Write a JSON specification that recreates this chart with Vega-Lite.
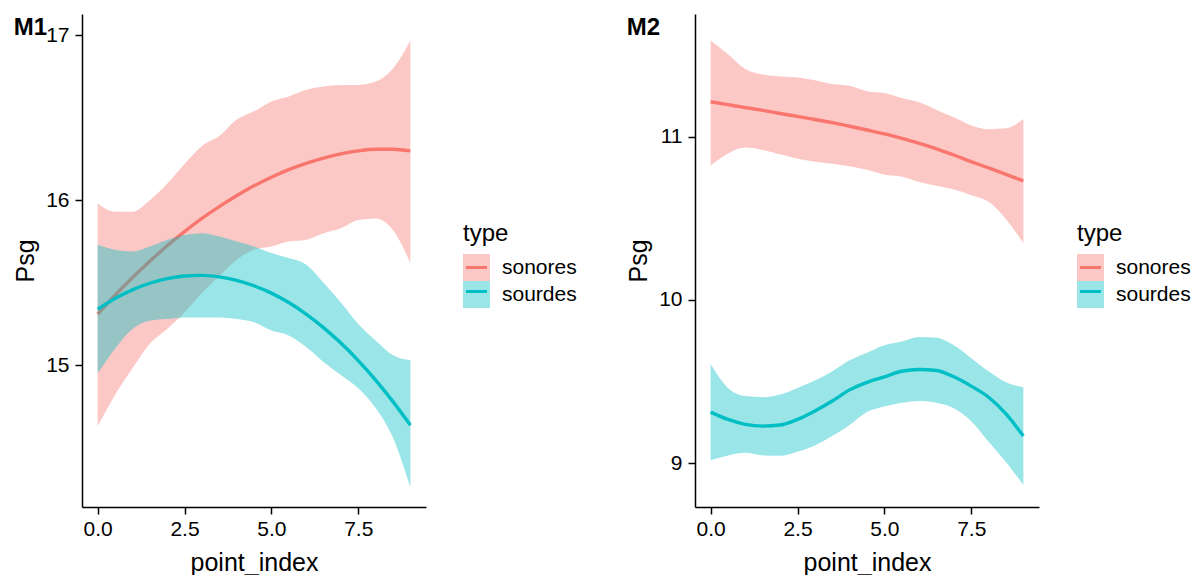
{
  "$schema": "https://vega.github.io/schema/vega-lite/v6.json",
  "background": "white",
  "padding": {"left": 13, "top": 14, "right": 0, "bottom": 0},
  "spacing": 49,
  "config": {
    "font": "Liberation Sans",
    "view": {"stroke": null},
    "axis": {
      "grid": false,
      "domainColor": "black",
      "domainWidth": 1.5,
      "tickColor": "black",
      "tickWidth": 1.5,
      "tickSize": 7,
      "labelFontSize": 21,
      "labelColor": "black",
      "titleFontSize": 25,
      "titleColor": "black",
      "titleFontWeight": "normal"
    },
    "axisX": {"labelPadding": 4, "titlePadding": 11},
    "axisY": {"labelPadding": 6, "titlePadding": 7},
    "legend": {
      "titleFontSize": 24,
      "titleFontWeight": "normal",
      "titleColor": "black",
      "labelFontSize": 21,
      "labelColor": "black",
      "rowPadding": 0,
      "titlePadding": 8,
      "labelOffset": 12
    },
    "title": {"fontSize": 24, "fontWeight": "bold", "color": "black", "anchor": "start", "frame": "bounds"}
  },
  "datasets": {
    "m1": [
      {"x": 0, "type": "sonores", "y": 15.31, "lo": 14.63, "hi": 15.98},
      {"x": 0.5, "type": "sonores", "y": 15.424, "lo": 14.82, "hi": 15.93},
      {"x": 1, "type": "sonores", "y": 15.53, "lo": 14.98, "hi": 15.93},
      {"x": 1.5, "type": "sonores", "y": 15.63, "lo": 15.13, "hi": 16.0},
      {"x": 2, "type": "sonores", "y": 15.724, "lo": 15.22, "hi": 16.1},
      {"x": 2.5, "type": "sonores", "y": 15.81, "lo": 15.32, "hi": 16.22},
      {"x": 3, "type": "sonores", "y": 15.89, "lo": 15.44, "hi": 16.33},
      {"x": 3.5, "type": "sonores", "y": 15.962, "lo": 15.54, "hi": 16.39},
      {"x": 4, "type": "sonores", "y": 16.028, "lo": 15.64, "hi": 16.49},
      {"x": 4.5, "type": "sonores", "y": 16.088, "lo": 15.7, "hi": 16.54},
      {"x": 5, "type": "sonores", "y": 16.14, "lo": 15.72, "hi": 16.6},
      {"x": 5.5, "type": "sonores", "y": 16.186, "lo": 15.75, "hi": 16.63},
      {"x": 6, "type": "sonores", "y": 16.224, "lo": 15.76, "hi": 16.67},
      {"x": 6.5, "type": "sonores", "y": 16.256, "lo": 15.8, "hi": 16.69},
      {"x": 7, "type": "sonores", "y": 16.282, "lo": 15.83, "hi": 16.7},
      {"x": 7.5, "type": "sonores", "y": 16.3, "lo": 15.88, "hi": 16.7},
      {"x": 8, "type": "sonores", "y": 16.31, "lo": 15.89, "hi": 16.72},
      {"x": 8.5, "type": "sonores", "y": 16.31, "lo": 15.82, "hi": 16.8},
      {"x": 9, "type": "sonores", "y": 16.3, "lo": 15.62, "hi": 16.97},
      {"x": 0, "type": "sourdes", "y": 15.34, "lo": 14.95, "hi": 15.73},
      {"x": 0.5, "type": "sourdes", "y": 15.405, "lo": 15.1, "hi": 15.7},
      {"x": 1, "type": "sourdes", "y": 15.457, "lo": 15.22, "hi": 15.69},
      {"x": 1.5, "type": "sourdes", "y": 15.497, "lo": 15.27, "hi": 15.72},
      {"x": 2, "type": "sourdes", "y": 15.525, "lo": 15.28, "hi": 15.76},
      {"x": 2.5, "type": "sourdes", "y": 15.541, "lo": 15.29, "hi": 15.79},
      {"x": 3, "type": "sourdes", "y": 15.545, "lo": 15.29, "hi": 15.8},
      {"x": 3.5, "type": "sourdes", "y": 15.536, "lo": 15.29, "hi": 15.78},
      {"x": 4, "type": "sourdes", "y": 15.515, "lo": 15.28, "hi": 15.75},
      {"x": 4.5, "type": "sourdes", "y": 15.482, "lo": 15.26, "hi": 15.72},
      {"x": 5, "type": "sourdes", "y": 15.437, "lo": 15.21, "hi": 15.68},
      {"x": 5.5, "type": "sourdes", "y": 15.38, "lo": 15.18, "hi": 15.65},
      {"x": 6, "type": "sourdes", "y": 15.31, "lo": 15.11, "hi": 15.61},
      {"x": 6.5, "type": "sourdes", "y": 15.228, "lo": 15.02, "hi": 15.5},
      {"x": 7, "type": "sourdes", "y": 15.134, "lo": 14.94, "hi": 15.38},
      {"x": 7.5, "type": "sourdes", "y": 15.028, "lo": 14.86, "hi": 15.25},
      {"x": 8, "type": "sourdes", "y": 14.91, "lo": 14.74, "hi": 15.15},
      {"x": 8.5, "type": "sourdes", "y": 14.779, "lo": 14.56, "hi": 15.06},
      {"x": 9, "type": "sourdes", "y": 14.636, "lo": 14.26, "hi": 15.03}
    ],
    "m2": [
      {"x": 0, "type": "sonores", "y": 11.213, "lo": 10.823, "hi": 11.588},
      {"x": 0.5, "type": "sonores", "y": 11.195, "lo": 10.896, "hi": 11.504},
      {"x": 1, "type": "sonores", "y": 11.177, "lo": 10.932, "hi": 11.413},
      {"x": 1.5, "type": "sonores", "y": 11.16, "lo": 10.918, "hi": 11.379},
      {"x": 2, "type": "sonores", "y": 11.141, "lo": 10.891, "hi": 11.368},
      {"x": 2.5, "type": "sonores", "y": 11.123, "lo": 10.864, "hi": 11.361},
      {"x": 3, "type": "sonores", "y": 11.104, "lo": 10.846, "hi": 11.345},
      {"x": 3.5, "type": "sonores", "y": 11.085, "lo": 10.834, "hi": 11.322},
      {"x": 4, "type": "sonores", "y": 11.063, "lo": 10.818, "hi": 11.311},
      {"x": 4.5, "type": "sonores", "y": 11.04, "lo": 10.796, "hi": 11.277},
      {"x": 5, "type": "sonores", "y": 11.016, "lo": 10.766, "hi": 11.266},
      {"x": 5.5, "type": "sonores", "y": 10.988, "lo": 10.755, "hi": 11.236},
      {"x": 6, "type": "sonores", "y": 10.958, "lo": 10.721, "hi": 11.209},
      {"x": 6.5, "type": "sonores", "y": 10.925, "lo": 10.698, "hi": 11.163},
      {"x": 7, "type": "sonores", "y": 10.887, "lo": 10.675, "hi": 11.118},
      {"x": 7.5, "type": "sonores", "y": 10.846, "lo": 10.641, "hi": 11.068},
      {"x": 8, "type": "sonores", "y": 10.808, "lo": 10.6, "hi": 11.045},
      {"x": 8.5, "type": "sonores", "y": 10.768, "lo": 10.494, "hi": 11.05},
      {"x": 9, "type": "sonores", "y": 10.728, "lo": 10.346, "hi": 11.107},
      {"x": 0, "type": "sourdes", "y": 9.313, "lo": 9.018, "hi": 9.608},
      {"x": 0.5, "type": "sourdes", "y": 9.268, "lo": 9.048, "hi": 9.461},
      {"x": 1, "type": "sourdes", "y": 9.238, "lo": 9.064, "hi": 9.411},
      {"x": 1.5, "type": "sourdes", "y": 9.227, "lo": 9.048, "hi": 9.404},
      {"x": 2, "type": "sourdes", "y": 9.234, "lo": 9.045, "hi": 9.42},
      {"x": 2.5, "type": "sourdes", "y": 9.268, "lo": 9.07, "hi": 9.461},
      {"x": 3, "type": "sourdes", "y": 9.32, "lo": 9.109, "hi": 9.506},
      {"x": 3.5, "type": "sourdes", "y": 9.381, "lo": 9.166, "hi": 9.563},
      {"x": 4, "type": "sourdes", "y": 9.449, "lo": 9.234, "hi": 9.631},
      {"x": 4.5, "type": "sourdes", "y": 9.495, "lo": 9.313, "hi": 9.677},
      {"x": 5, "type": "sourdes", "y": 9.529, "lo": 9.347, "hi": 9.722},
      {"x": 5.5, "type": "sourdes", "y": 9.563, "lo": 9.37, "hi": 9.745},
      {"x": 6, "type": "sourdes", "y": 9.574, "lo": 9.381, "hi": 9.772},
      {"x": 6.5, "type": "sourdes", "y": 9.568, "lo": 9.37, "hi": 9.768},
      {"x": 7, "type": "sourdes", "y": 9.529, "lo": 9.336, "hi": 9.722},
      {"x": 7.5, "type": "sourdes", "y": 9.472, "lo": 9.257, "hi": 9.643},
      {"x": 8, "type": "sourdes", "y": 9.404, "lo": 9.132, "hi": 9.563},
      {"x": 8.5, "type": "sourdes", "y": 9.302, "lo": 9.007, "hi": 9.495},
      {"x": 9, "type": "sourdes", "y": 9.166, "lo": 8.866, "hi": 9.465}
    ]
  },
  "hconcat": [
    {
      "width": 344,
      "height": 493,
      "title": {"text": "M1", "dy": 30},
      "data": {"name": "m1"},
      "encoding": {
        "x": {"field": "x", "type": "quantitative", "title": "point_index",
              "scale": {"domain": [-0.45, 9.45], "nice": false, "zero": false},
              "axis": {"values": [0, 2.5, 5, 7.5], "format": ".1f"}}
      },
      "layer": [
        {
          "transform": [{"filter": "datum.type === 'sonores'"}],
          "mark": {"type": "area", "opacity": 0.4, "interpolate": "monotone"},
          "encoding": {
            "y": {"field": "lo", "type": "quantitative", "title": "Psg",
                  "scale": {"domain": [14.14, 17.13], "nice": false, "zero": false},
                  "axis": {"values": [15, 16, 17], "format": "d"}},
            "y2": {"field": "hi"},
            "fill": {"field": "type", "type": "nominal",
                     "scale": {"range": ["#F8766D", "#00BFC4"]},
                     "legend": {"title": "type", "orient": "none", "legendX": 381, "legendY": 208, "zindex": 0,
                                "symbolType": "square", "symbolSize": 729, "symbolStrokeWidth": 0, "symbolOpacity": 0.4}}
          }
        },
        {
          "transform": [{"filter": "datum.type === 'sonores'"}],
          "mark": {"type": "line", "strokeWidth": 3.4, "interpolate": "monotone"},
          "encoding": {
            "y": {"field": "y", "type": "quantitative"},
            "stroke": {"field": "type", "type": "nominal",
                       "scale": {"domain": ["sonores", "sourdes"], "range": ["#F8766D", "#00BFC4"]},
                       "legend": {"title": "type", "orient": "none", "legendX": 381, "legendY": 208, "zindex": 1,
                                  "titleOpacity": 0, "labelOpacity": 0,
                                  "symbolType": "M-0.875,0H0.875", "symbolSize": 576, "symbolStrokeWidth": 3}}
          }
        },
        {
          "transform": [{"filter": "datum.type === 'sourdes'"}],
          "mark": {"type": "area", "opacity": 0.4, "interpolate": "monotone"},
          "encoding": {
            "y": {"field": "lo", "type": "quantitative"},
            "y2": {"field": "hi"},
            "fill": {"field": "type", "type": "nominal"}
          }
        },
        {
          "transform": [{"filter": "datum.type === 'sourdes'"}],
          "mark": {"type": "line", "strokeWidth": 3.4, "interpolate": "monotone"},
          "encoding": {
            "y": {"field": "y", "type": "quantitative"},
            "stroke": {"field": "type", "type": "nominal"}
          }
        }
      ]
    },
    {
      "width": 344,
      "height": 493,
      "title": {"text": "M2", "dy": 30},
      "data": {"name": "m2"},
      "encoding": {
        "x": {"field": "x", "type": "quantitative", "title": "point_index",
              "scale": {"domain": [-0.45, 9.45], "nice": false, "zero": false},
              "axis": {"values": [0, 2.5, 5, 7.5], "format": ".1f"}}
      },
      "layer": [
        {
          "transform": [{"filter": "datum.type === 'sonores'"}],
          "mark": {"type": "area", "opacity": 0.4, "interpolate": "monotone"},
          "encoding": {
            "y": {"field": "lo", "type": "quantitative", "title": "Psg",
                  "scale": {"domain": [8.732, 11.75], "nice": false, "zero": false},
                  "axis": {"values": [9, 10, 11], "format": "d"}},
            "y2": {"field": "hi"},
            "fill": {"field": "type", "type": "nominal",
                     "scale": {"range": ["#F8766D", "#00BFC4"]},
                     "legend": {"title": "type", "orient": "none", "legendX": 382, "legendY": 208, "zindex": 0,
                                "symbolType": "square", "symbolSize": 729, "symbolStrokeWidth": 0, "symbolOpacity": 0.4}}
          }
        },
        {
          "transform": [{"filter": "datum.type === 'sonores'"}],
          "mark": {"type": "line", "strokeWidth": 3.4, "interpolate": "monotone"},
          "encoding": {
            "y": {"field": "y", "type": "quantitative"},
            "stroke": {"field": "type", "type": "nominal",
                       "scale": {"domain": ["sonores", "sourdes"], "range": ["#F8766D", "#00BFC4"]},
                       "legend": {"title": "type", "orient": "none", "legendX": 382, "legendY": 208, "zindex": 1,
                                  "titleOpacity": 0, "labelOpacity": 0,
                                  "symbolType": "M-0.875,0H0.875", "symbolSize": 576, "symbolStrokeWidth": 3}}
          }
        },
        {
          "transform": [{"filter": "datum.type === 'sourdes'"}],
          "mark": {"type": "area", "opacity": 0.4, "interpolate": "monotone"},
          "encoding": {
            "y": {"field": "lo", "type": "quantitative"},
            "y2": {"field": "hi"},
            "fill": {"field": "type", "type": "nominal"}
          }
        },
        {
          "transform": [{"filter": "datum.type === 'sourdes'"}],
          "mark": {"type": "line", "strokeWidth": 3.4, "interpolate": "monotone"},
          "encoding": {
            "y": {"field": "y", "type": "quantitative"},
            "stroke": {"field": "type", "type": "nominal"}
          }
        }
      ]
    }
  ],
  "resolve": {
    "scale": {"x": "independent", "y": "independent", "fill": "independent", "stroke": "independent"},
    "legend": {"fill": "independent", "stroke": "independent"}
  }
}
